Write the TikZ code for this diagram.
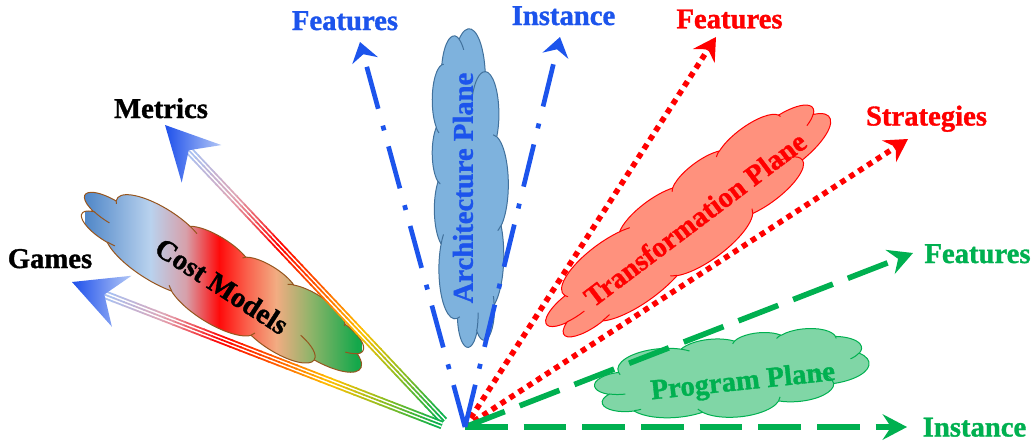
\documentclass[tikz,border=0pt]{standalone}
\usepackage{fontspec}
\setmainfont{Liberation Serif}[BoldFeatures={FakeBold=1.2}]
\usetikzlibrary{arrows.meta,calc}

% plane colours
\definecolor{planeblue}{RGB}{28,84,236}
\definecolor{archfill}{RGB}{126,178,221}
\definecolor{archedge}{RGB}{65,113,156}
\definecolor{trred}{RGB}{255,0,0}
\definecolor{trfill}{RGB}{255,145,125}
\definecolor{pggreen}{RGB}{0,176,80}
\definecolor{pgfill}{RGB}{128,214,166}
\definecolor{cmedge}{RGB}{150,85,30}
% cost model cloud gradient
\definecolor{cmA}{RGB}{80,135,200}
\definecolor{cmB}{RGB}{185,210,238}
\definecolor{cmC}{RGB}{215,160,170}
\definecolor{cmD}{RGB}{255,10,10}
\definecolor{cmE}{RGB}{250,95,75}
\definecolor{cmF}{RGB}{242,172,130}
\definecolor{cmG}{RGB}{140,180,105}
\definecolor{cmH}{RGB}{20,168,75}
% cost arrow gradient (origin -> head)
\definecolor{gA}{RGB}{0,176,80}
\definecolor{gB}{RGB}{150,190,30}
\definecolor{gC}{RGB}{255,192,0}
\definecolor{gD}{RGB}{255,100,0}
\definecolor{gE}{RGB}{255,0,0}
\definecolor{gF}{RGB}{225,165,180}
\definecolor{gG}{RGB}{165,195,245}
\definecolor{headdark}{RGB}{30,80,235}
\definecolor{headlight}{RGB}{180,200,246}

\pgfdeclarehorizontalshading{costmodels}{100bp}{color(0bp)=(cmA); color(25bp)=(cmA);
  color(36.8bp)=(cmB); color(43.2bp)=(cmC); color(49.2bp)=(cmD); color(54.1bp)=(cmE);
  color(59.5bp)=(cmF); color(65.9bp)=(cmG); color(74.1bp)=(cmH); color(100bp)=(cmH)}

% cloud outline in a 100 x 100 box, y pointing down
\newcommand\cloudoutline{%
 (9.028,33.264)
 arc[start angle=-187.75,end angle=-59.64,x radius=15.632,y radius=21.273]
 arc[start angle=-152.02,end angle=-45.42,x radius=12.345,y radius=16.822]
 arc[start angle=-153.48,end angle=-37.32,x radius=10.104,y radius=13.762]
 arc[start angle=-139.69,end angle=-10.21,x radius=11.243,y radius=15.266]
 arc[start angle=-74.77,end angle=23.21,x radius=12.345,y radius=16.836]
 arc[start angle=-37.52,end angle=81.86,x radius=15.683,y radius=21.343]
 arc[start angle=0.46,end angle=121.98,x radius=13.391,y radius=18.211]
 arc[start angle=16.84,end angle=146.25,x radius=15.630,y radius=21.331]
 arc[start angle=58.98,end angle=150.20,x radius=17.870,y radius=24.405]
 arc[start angle=-276.69,end angle=-136.88,x radius=10.093,y radius=13.699]
 arc[start angle=-239.64,end angle=-95.89,x radius=10.058,y radius=13.762]
 -- cycle}
% the small inner creases of the cloud
\newcommand\cloudcreases{%
 (10.863,60.595) arc[start angle=85.55,end angle=120.36,x radius=10.058,y radius=13.762]
 (16.037,80.785) arc[start angle=68.23,end angle=83.31,x radius=10.093,y radius=13.699]
 (38.144,90.486) arc[start angle=146.25,end angle=158.47,x radius=15.630,y radius=21.331]
 (66.729,80.442) arc[start angle=4.74,end angle=16.84,x radius=15.630,y radius=21.331]
 (79.002,53.134) arc[start angle=-64.02,end angle=0.46,x radius=13.391,y radius=18.211]
 (96.755,35.542) arc[start angle=23.21,end angle=49.63,x radius=12.345,y radius=16.836]
 (88.713,12.560) arc[start angle=-10.21,end angle=0.82,x radius=11.243,y radius=15.266]
 (67.310,9.148) arc[start angle=-156.29,end angle=-139.69,x radius=11.243,y radius=15.266]
 (51.252,10.926) arc[start angle=-167.73,end angle=-153.48,x radius=10.104,y radius=13.762]
 (32.407,12.019) arc[start angle=-59.64,end angle=-45.72,x radius=15.632,y radius=21.273]
 (9.553,36.549) arc[start angle=163.19,end angle=172.25,x radius=15.632,y radius=21.273]}

% straight line with a colour gradient from #1 to #2
\newcommand\gradline[3]{%
  \foreach \ta/\ca/\tb/\cb in {0/gA/0.18/gB,0.18/gB/0.33/gC,0.33/gC/0.48/gD,0.48/gD/0.65/gE,0.65/gE/0.82/gF,0.82/gF/1/gG}{%
    \foreach \k in {0,...,5}{%
      \pgfmathsetmacro\gradS{\ta+(\tb-\ta)*\k/6}%
      \pgfmathsetmacro\gradE{\ta+(\tb-\ta)*(\k+1)/6+0.004}%
      \pgfmathsetmacro\gradP{100*(\k+0.5)/6}%
      \draw[line width=#3, draw={\cb!\gradP!\ca}] ($(#1)!\gradS!(#2)$) -- ($(#1)!\gradE!(#2)$);
    }}}

% triple-line arrow with a shaded head, from #1 to the tip #2
\newcommand\costarrow[2]{%
  \path ($(#2)!40pt!(#1)$) coordinate (cb) ($(#2)!26pt!(#1)$) coordinate (cn);
  \path ($(cb)!20.5pt!90:(#2)$) coordinate (cw1) ($(cb)!20.5pt!-90:(#2)$) coordinate (cw2);
  \gradline{#1}{cn}{6.4pt}
  \draw[white, line width=3.6pt] (#1) -- (cn);
  \gradline{#1}{cn}{1.3pt}
  \shade[left color=headdark, right color=headlight] (#2) -- (cw1) -- (cn) -- (cw2) -- cycle;
}

\tikzset{
  cloudbox/.style n args={4}{shift={#1}, rotate=#4, x=1pt, y=-1pt,
    xscale=#2*0.0075, yscale=#3*0.0075, shift={(-50,-50)}},
  lbl/.style={font=\bfseries\fontsize{21.5}{26}\selectfont, inner sep=0pt},
  bluedd/.style={planeblue, line width=3.5pt,
    dash pattern=on 32.6pt off 12.4pt on 3.75pt off 13.1pt,
    -{Stealth[length=14.5pt,width=20pt,inset=5pt,line width=0pt]}},
  reddot/.style={trred, line width=4.2pt, dash pattern=on 4.2pt off 3.8pt,
    -{Stealth[length=17pt,width=19.5pt,inset=6pt,line width=0pt]}},
  greendash/.style={pggreen, line width=4.2pt, dash pattern=on 32pt off 12pt,
    -{Stealth[length=18.5pt,width=19.5pt,inset=6.5pt,line width=0pt]}},
}

\begin{document}
\begin{tikzpicture}[x=0.75pt,y=-0.75pt]
\useasboundingbox (0,0) rectangle (1035,444);

% ---- clouds ----
\path[cloudbox={(470,188)}{318}{76}{90}, fill=archfill, draw=archedge, line width=0.75pt] \cloudoutline;
\draw[cloudbox={(470,188)}{318}{76}{90}, archedge, line width=0.75pt] \cloudcreases;

\path[cloudbox={(689,222)}{350}{88}{36.5}, fill=trfill, draw=trred, line width=0.75pt] \cloudoutline;
\draw[cloudbox={(689,222)}{350}{88}{36.5}, trred, line width=0.75pt] \cloudcreases;

\path[cloudbox={(732,376)}{275}{82}{5}, fill=pgfill, draw=pggreen, line width=0.75pt] \cloudoutline;
\draw[cloudbox={(732,376)}{275}{82}{5}, pggreen, line width=0.75pt] \cloudcreases;

\begin{scope}
  \clip[cloudbox={(222,283)}{325}{82}{-32}] \cloudoutline;
  \shade[shading=costmodels] (85,150) rectangle (362,420);
\end{scope}
\draw[cloudbox={(222,283)}{325}{82}{-32}, cmedge, line width=0.75pt] \cloudoutline;
\draw[cloudbox={(222,283)}{325}{82}{-32}, cmedge, line width=0.75pt] \cloudcreases;

% ---- cloud titles ----
\node[lbl, planeblue, rotate=90] (tArch) at (463,188) {Architecture Plane};
\node[lbl, trred, rotate=37] (tTrans) at (695,219) {Transformation Plane};
\node[lbl, pggreen, rotate=6] (tProg) at (743,383) {Program Plane};
\node[lbl, black, rotate=-33] (tCost) at (222,286) {Cost Models};

% ---- end labels ----
\node[lbl, planeblue, anchor=base] (lArchF) at (345,30) {Features};
\node[lbl, planeblue, anchor=base] (lArchI) at (563.5,25) {Instance};
\node[lbl, trred, anchor=base] (lTrF) at (729.5,28.3) {Features};
\node[lbl, trred, anchor=base] (lTrS) at (926.5,125.5) {Strategies};
\node[lbl, pggreen, anchor=base] (lPgF) at (977.5,263) {Features};
\node[lbl, pggreen, anchor=base] (lPgI) at (974.5,436.5) {Instance};
\node[lbl, black, anchor=base] (lMet) at (161,118) {Metrics};
\node[lbl, black, anchor=base] (lGam) at (50,268) {Games};

% ---- axes ----
\coordinate (O) at (465,427);
\coordinate (cmO1) at (444,421);
\coordinate (cmO2) at (442,425);
\coordinate (archF) at (360,42);
\coordinate (archI) at (560,37);
\coordinate (trF) at (716,37);
\coordinate (trS) at (908,139);
\coordinate (pgF) at (913,253);
\coordinate (pgI) at (907,427);
\coordinate (cmM) at (165,125);
\coordinate (cmG) at (72,282);

\costarrow{cmO1}{cmM}
\costarrow{cmO2}{cmG}

\draw[reddot] (O) -- (trF);
\draw[reddot] (O) -- (trS);
\draw[greendash] (O) -- (pgF);
\draw[greendash] (O) -- (pgI);
\draw[bluedd] (O) -- (archF);
\draw[bluedd] (O) -- (archI);
\end{tikzpicture}
\end{document}
